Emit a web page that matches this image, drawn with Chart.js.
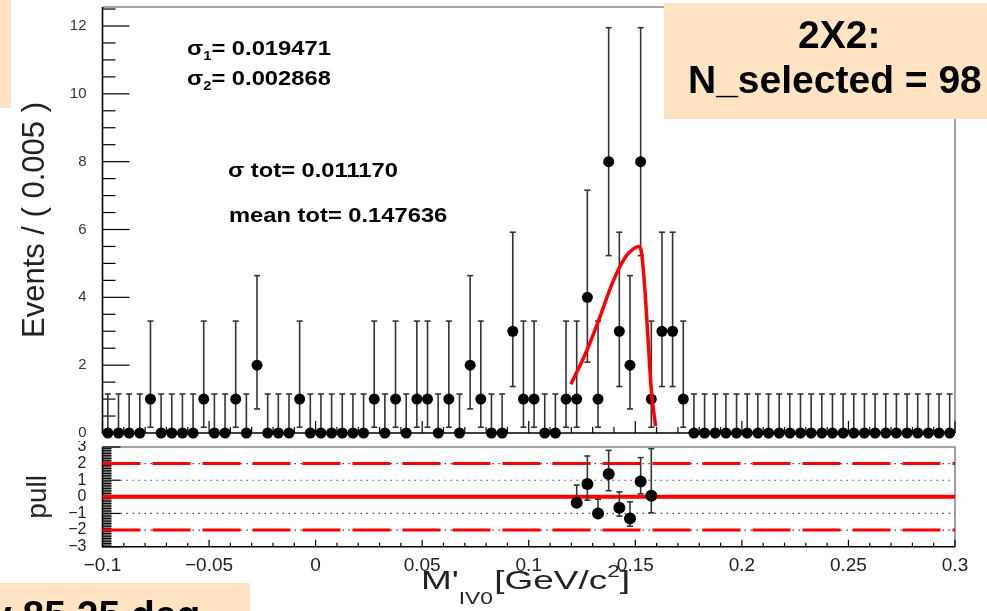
<!DOCTYPE html>
<html>
<head>
<meta charset="utf-8">
<script src="https://cdn.jsdelivr.net/npm/chart.js@4.4.1/dist/chart.umd.min.js"></script>
<style>
  html, body { margin: 0; padding: 0; background: #fff; }
  body { width: 987px; height: 611px; position: relative; overflow: hidden; }
  #mainWrap { position: absolute; left: 0; top: 0; width: 987px; height: 441px; }
  #pullWrap { position: absolute; left: 0; top: 441px; width: 987px; height: 170px; }
</style>
</head>
<body>
<div id="mainWrap"><canvas id="mainChart" width="987" height="441"></canvas></div>
<div id="pullWrap"><canvas id="pullChart" width="987" height="170"></canvas></div>
<script>
// --- valeurs ---
const binCenters = [
  -0.0975, -0.0925, -0.0875, -0.0825, -0.0775, -0.0725, -0.0675, -0.0625, -0.0575, -0.0525,
  -0.0475, -0.0425, -0.0375, -0.0325, -0.0275, -0.0225, -0.0175, -0.0125, -0.0075, -0.0025,
  0.0025, 0.0075, 0.0125, 0.0175, 0.0225, 0.0275, 0.0325, 0.0375, 0.0425, 0.0475,
  0.0525, 0.0575, 0.0625, 0.0675, 0.0725, 0.0775, 0.0825, 0.0875, 0.0925, 0.0975,
  0.1025, 0.1075, 0.1125, 0.1175, 0.1225, 0.1275, 0.1325, 0.1375, 0.1425, 0.1475,
  0.1525, 0.1575, 0.1625, 0.1675, 0.1725, 0.1775, 0.1825, 0.1875, 0.1925, 0.1975,
  0.2025, 0.2075, 0.2125, 0.2175, 0.2225, 0.2275, 0.2325, 0.2375, 0.2425, 0.2475,
  0.2525, 0.2575, 0.2625, 0.2675, 0.2725, 0.2775, 0.2825, 0.2875, 0.2925, 0.2975
];
const counts = [
  0, 0, 0, 0, 1, 0, 0, 0, 0, 1,
  0, 0, 1, 0, 2, 0, 0, 0, 1, 0,
  0, 0, 0, 0, 0, 1, 0, 1, 0, 1,
  1, 0, 1, 0, 2, 1, 0, 0, 3, 1,
  1, 0, 0, 1, 1, 4, 1, 8, 3, 2,
  8, 1, 3, 3, 1, 0, 0, 0, 0, 0,
  0, 0, 0, 0, 0, 0, 0, 0, 0, 0,
  0, 0, 0, 0, 0, 0, 0, 0, 0, 0
];
// barres d'erreur (bas, haut) selon le contenu du bin
const errTable = {
  0: [0, 1.15],
  1: [0.83, 2.30],
  2: [1.29, 2.64],
  3: [1.63, 2.92],
  4: [1.91, 3.16],
  8: [2.77, 3.95]
};
// courbe d'ajustement (rouge)
const fitX = [0.1198, 0.1269, 0.1331, 0.1394, 0.1457, 0.1490, 0.1515, 0.1527, 0.1543, 0.1559, 0.1574, 0.1595];
const fitY = [1.44, 2.38, 3.37, 4.45, 5.22, 5.42, 5.50, 5.40, 4.40, 2.85, 1.35, 0.20];
// pull
const pullX = [0.1225, 0.1275, 0.1325, 0.1375, 0.1425, 0.1475, 0.1525, 0.1575];
const pullY = [-0.35, 0.77, -1.0, 1.38, -0.65, -1.30, 0.93, 0.06];
const pullLo = [-0.60, -0.20, -1.20, 0.37, -1.16, -1.77, 0.18, -0.96];
const pullHi = [0.71, 2.46, -0.14, 2.80, 0.30, -0.30, 2.36, 2.90];

const mainYTicks = [0, 2, 4, 6, 8, 10, 12];
const pullYTicks = [3, 2, 1, 0, -1, -2, -3];
const pullYLabels = ['3', '2', '1', '0', '\u22121', '\u22122', '\u22123'];
const xTicks = [-0.1, -0.05, 0, 0.05, 0.1, 0.15, 0.2, 0.25, 0.3];
const xTickLabels = ['\u22120.1', '\u22120.05', '0', '0.05', '0.1', '0.15', '0.2', '0.25', '0.3'];

const FONT = '"Liberation Sans", Arial, sans-serif';
const BOX = '#ffe4c4';

// texte en plusieurs morceaux (indices, exposants), étiré horizontalement
function drawRuns(ctx, x, y, runs, sx) {
  ctx.save();
  ctx.translate(x, y);
  ctx.scale(sx, 1);
  ctx.textAlign = 'left';
  ctx.textBaseline = 'alphabetic';
  let cx = 0;
  runs.forEach(r => {
    ctx.font = r.font;
    ctx.fillText(r.t, cx, r.dy || 0);
    cx += ctx.measureText(r.t).width + (r.gap || 0);
  });
  ctx.restore();
}

function line(ctx, x1, y1, x2, y2) {
  ctx.beginPath();
  ctx.moveTo(x1, y1);
  ctx.lineTo(x2, y2);
  ctx.stroke();
}

// cadre style ROOT + graduations intérieures
function drawFrame(chart, o) {
  const ctx = chart.ctx, ca = chart.chartArea;
  const xs = chart.scales.x, ys = chart.scales.y;
  ctx.save();
  ctx.lineWidth = 1.6;
  ctx.strokeStyle = '#888';
  ctx.beginPath();
  ctx.moveTo(ca.left, ca.top); ctx.lineTo(ca.right, ca.top); ctx.lineTo(ca.right, ca.bottom);
  ctx.stroke();
  ctx.strokeStyle = '#000';
  ctx.beginPath();
  ctx.moveTo(ca.left, ca.top); ctx.lineTo(ca.left, ca.bottom); ctx.lineTo(ca.right, ca.bottom);
  ctx.stroke();
  ctx.lineWidth = 1.2;
  // x
  for (let k = 0; k <= 40; k++) {
    const v = -0.1 + k * 0.01;
    const px = xs.getPixelForValue(v);
    const len = k % 5 === 0 ? o.xMajor : o.xMinor;
    line(ctx, px, ca.bottom, px, ca.bottom - len);
  }
  // y
  const n = Math.round((o.yMax - o.yMin) / o.yStep);
  for (let k = 0; k <= n; k++) {
    const v = o.yMin + k * o.yStep;
    const py = ys.getPixelForValue(v);
    const major = Math.abs(v / o.yMajorStep - Math.round(v / o.yMajorStep)) < 1e-6;
    line(ctx, ca.left, py, ca.left + (major ? o.yMajor : o.yMinor), py);
  }
  ctx.restore();
}

const mainPlugin = {
  id: 'mainPlugin',
  beforeDatasetsDraw(chart) {
    drawFrame(chart, { xMajor: 12, xMinor: 6, yMin: 0, yMax: 12.5, yStep: 0.5, yMajorStep: 2, yMajor: 27, yMinor: 13 });
  },
  beforeDatasetDraw(chart, args) {
    if (args.index !== 1) return;
    const ctx = chart.ctx, xs = chart.scales.x, ys = chart.scales.y;
    ctx.save();
    ctx.strokeStyle = '#333';
    ctx.lineWidth = 1.6;
    binCenters.forEach((b, i) => {
      const e = errTable[counts[i]];
      const px = xs.getPixelForValue(b);
      const y1 = ys.getPixelForValue(counts[i] - e[0]);
      const y2 = ys.getPixelForValue(counts[i] + e[1]);
      line(ctx, px, y1, px, y2);
      line(ctx, px - 3, y2, px + 3, y2);
      line(ctx, px - 3, y1, px + 3, y1);
    });
    ctx.restore();
  },
  afterDraw(chart) {
    const ctx = chart.ctx;
    ctx.save();
    ctx.fillStyle = '#000';
    const B = s => 'bold ' + s + 'px ' + FONT;
    drawRuns(ctx, 187, 55, [{ t: '\u03c3', font: B(21) }, { t: '1', font: B(13), dy: 5 }, { t: '= 0.019471', font: B(21) }], 1.13);
    drawRuns(ctx, 187, 85, [{ t: '\u03c3', font: B(21) }, { t: '2', font: B(13), dy: 5 }, { t: '= 0.002868', font: B(21) }], 1.13);
    drawRuns(ctx, 228, 177, [{ t: '\u03c3 tot= 0.011170', font: B(21) }], 1.13);
    drawRuns(ctx, 229, 222, [{ t: 'mean tot= 0.147636', font: B(21) }], 1.13);
    // encadrés
    ctx.fillStyle = BOX;
    ctx.fillRect(0, 0, 11, 108);
    ctx.fillRect(664, 3, 323, 116);
    ctx.fillStyle = '#000';
    ctx.font = B(39);
    ctx.fillText('2X2:', 798, 48);
    ctx.fillText('N_selected = 98', 688, 93);
    ctx.restore();
  }
};

const pullPlugin = {
  id: 'pullPlugin',
  beforeDatasetsDraw(chart) {
    drawFrame(chart, { xMajor: 7, xMinor: 4, yMin: -3, yMax: 3, yStep: 0.1, yMajorStep: 1, yMajor: 18, yMinor: 9 });
  },
  beforeDatasetDraw(chart, args) {
    if (args.index !== 0) return;
    const ctx = chart.ctx, xs = chart.scales.x, ys = chart.scales.y;
    ctx.save();
    ctx.strokeStyle = '#333';
    ctx.lineWidth = 1.6;
    pullX.forEach((b, i) => {
      const px = xs.getPixelForValue(b);
      const y1 = ys.getPixelForValue(pullLo[i]);
      const y2 = ys.getPixelForValue(pullHi[i]);
      line(ctx, px, y1, px, y2);
      line(ctx, px - 3, y2, px + 3, y2);
      line(ctx, px - 3, y1, px + 3, y1);
    });
    ctx.restore();
  },
  afterDraw(chart) {
    const ctx = chart.ctx;
    ctx.save();
    // titre de l'axe x
    ctx.fillStyle = '#222';
    const R = s => s + 'px ' + FONT;
    drawRuns(ctx, 421, 148, [
      { t: "M'", font: R(26) },
      { t: 'IV0', font: R(16), dy: 15, gap: 1 },
      { t: '[GeV/c', font: R(26) },
      { t: '2', font: R(16), dy: -12 },
      { t: ']', font: R(26) }
    ], 1.42);
    // encadré du bas
    ctx.fillStyle = BOX;
    ctx.fillRect(0, 142, 250, 28);
    ctx.fillStyle = '#000';
    ctx.font = 'bold 39px ' + FONT;
    ctx.fillText('y 85.25 deg', -10, 187);
    ctx.restore();
  }
};

const hline = (y, color, width, dash) => ({
  data: [{ x: -0.1, y: y }, { x: 0.3, y: y }],
  showLine: true,
  borderColor: color,
  borderWidth: width,
  borderDash: dash,
  pointRadius: 0
});

// largeur fixe de l'axe y, sans marge ajoutée pour les étiquettes
const fixY = s => { s.width = 102.5; s.paddingTop = 0; s.paddingBottom = 0; };

// --- graphique principal ---
new Chart(document.getElementById('mainChart').getContext('2d'), {
  type: 'scatter',
  data: {
    datasets: [
      {
        data: fitX.map((x, i) => ({ x: x, y: fitY[i] })),
        showLine: true,
        borderColor: '#ff0000',
        borderWidth: 3.5,
        pointRadius: 0,
        cubicInterpolationMode: 'monotone'
      },
      {
        data: binCenters.map((x, i) => ({ x: x, y: counts[i] })),
        pointRadius: 5.5,
        backgroundColor: '#000',
        borderWidth: 0,
        clip: false
      }
    ]
  },
  options: {
    responsive: false,
    animation: false,
    events: [],
    layout: { padding: { left: 0, right: 32, top: 7, bottom: 8 } },
    plugins: { legend: { display: false }, tooltip: { enabled: false } },
    scales: {
      x: { type: 'linear', min: -0.1, max: 0.3, display: false },
      y: {
        type: 'linear', min: 0, max: 12.56,
        afterBuildTicks: s => { s.ticks = mainYTicks.map(v => ({ value: v })); },
        afterFit: fixY,
        grid: { display: false },
        border: { display: false },
        ticks: { autoSkip: false, padding: 8, color: '#333', font: { family: FONT, size: 15 } },
        title: {
          display: true,
          text: 'Events / ( 0.005 )',
          color: '#222',
          font: { family: FONT, size: 31 },
          padding: { top: 17, bottom: 0 }
        }
      }
    }
  },
  plugins: [mainPlugin]
});

// --- graphique des pulls ---
new Chart(document.getElementById('pullChart').getContext('2d'), {
  type: 'scatter',
  data: {
    datasets: [
      {
        data: pullX.map((x, i) => ({ x: x, y: pullY[i] })),
        pointRadius: 6,
        backgroundColor: '#000',
        borderWidth: 0,
        clip: false
      },
      hline(0, '#ff0000', 4, []),
      hline(2, '#ff0000', 3, [38, 12]),
      hline(-2, '#ff0000', 3, [38, 12]),
      hline(1, '#444', 1.2, [1.5, 4.5]),
      hline(-1, '#444', 1.2, [1.5, 4.5]),
      hline(2, '#444', 1.2, [1.5, 4.5]),
      hline(-2, '#444', 1.2, [1.5, 4.5])
    ]
  },
  options: {
    responsive: false,
    animation: false,
    events: [],
    layout: { padding: { left: 0, right: 32, top: 5.7, bottom: 0 } },
    plugins: { legend: { display: false }, tooltip: { enabled: false } },
    scales: {
      x: {
        type: 'linear', min: -0.1, max: 0.3,
        afterBuildTicks: s => { s.ticks = xTicks.map(v => ({ value: v })); },
        afterFit: s => { s.height = 64.3; s.paddingLeft = 0; s.paddingRight = 0; },
        grid: { display: false },
        border: { display: false },
        ticks: {
          autoSkip: false, maxRotation: 0, padding: 0, color: '#222',
          font: { family: FONT, size: 19 },
          callback: (v, i) => xTickLabels[i]
        }
      },
      y: {
        type: 'linear', min: -3, max: 3,
        afterBuildTicks: s => { s.ticks = pullYTicks.map(v => ({ value: v })); },
        afterFit: fixY,
        grid: { display: false },
        border: { display: false },
        ticks: {
          autoSkip: false, padding: 8, color: '#222',
          font: { family: FONT, size: 16 },
          callback: (v, i) => pullYLabels[pullYTicks.indexOf(v)]
        },
        title: {
          display: true,
          text: 'pull',
          color: '#222',
          font: { family: FONT, size: 28 },
          padding: { top: 21, bottom: 0 }
        }
      }
    }
  },
  plugins: [pullPlugin]
});
</script>
</body>
</html>
